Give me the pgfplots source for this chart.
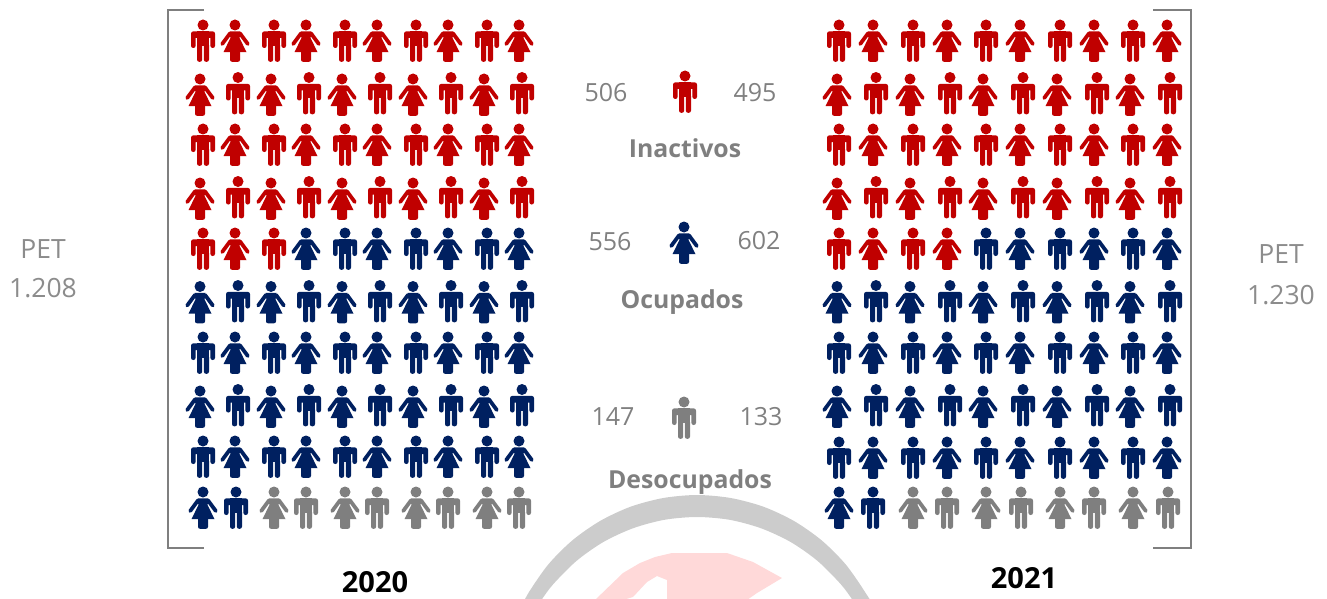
\documentclass[border=0pt]{standalone}
\usepackage{pgfplots}
\pgfplotsset{compat=1.18}
\usepackage{fontspec}
\setmainfont{Open Sans}
\definecolor{cred}{HTML}{C00000}
\definecolor{cnavy}{HTML}{002060}
\definecolor{cgray}{HTML}{7F7F7F}
\definecolor{cnum}{HTML}{808080}
\definecolor{cpet}{HTML}{8C8C8C}
\definecolor{cwmg}{HTML}{CCCCCC}
\definecolor{cwmp}{HTML}{FFD9D9}
\newcommand{\rr}[4]{%
  \pgfpathmoveto{\pgfpoint{#1pt}{#2pt}}%
  \pgfpathlineto{\pgfpoint{#1pt}{#4pt}}%
  \pgfpathlineto{\pgfpoint{#3pt}{#4pt}}%
  \pgfpathlineto{\pgfpoint{#3pt}{#2pt}}%
  \pgfpathclose}
\pgfdeclareplotmark{man}{%
  \pgfpathcircle{\pgfpoint{0pt}{16pt}}{5.5pt}\pgfusepathqfill
  \pgfsetcornersarced{\pgfpoint{2.2pt}{2.2pt}}%
  \rr{-12}{3}{12}{9.6}%
  \rr{-12}{-7}{-7.4}{7}%
  \rr{7.4}{-7}{12}{7}%
  \rr{-6}{-20.8}{-0.8}{-2}%
  \rr{0.8}{-20.8}{6}{-2}%
  \pgfusepath{fill}%
  \pgfsetcornersarced{\pgfpoint{0pt}{0pt}}%
  \rr{-6}{-5}{6}{9.6}\pgfusepathqfill
}
\pgfdeclareplotmark{woman}{%
  \pgfpathcircle{\pgfpoint{0pt}{16pt}}{5.5pt}\pgfusepathqfill
  \pgfsetlinewidth{3.8pt}\pgfsetroundcap
  \pgfpathmoveto{\pgfpoint{-5pt}{7.6pt}}\pgfpathlineto{\pgfpoint{-12.8pt}{-3pt}}%
  \pgfpathmoveto{\pgfpoint{5pt}{7.6pt}}\pgfpathlineto{\pgfpoint{12.8pt}{-3pt}}%
  \pgfusepathqstroke
  \pgfpathmoveto{\pgfpoint{-5.5pt}{9.6pt}}%
  \pgfpathlineto{\pgfpoint{5.5pt}{9.6pt}}%
  \pgfpathlineto{\pgfpoint{4.6pt}{3pt}}%
  \pgfpathlineto{\pgfpoint{11.5pt}{-11.2pt}}%
  \pgfpathlineto{\pgfpoint{-11.5pt}{-11.2pt}}%
  \pgfpathlineto{\pgfpoint{-4.6pt}{3pt}}%
  \pgfpathclose\pgfusepathqfill
  \pgfsetcornersarced{\pgfpoint{2pt}{2pt}}%
  \rr{-5}{-20.8}{5}{-8}\pgfusepath{fill}%
}
\pgfplotsset{
  ppl/.style n args={2}{only marks,mark=#1,mark options={draw=#2,fill=#2},draw=none},
}
\newcommand{\num}[1]{{\fontsize{25}{28}\selectfont #1}}
\newcommand{\pet}[1]{{\fontsize{26.5}{28}\selectfont #1}}
\newcommand{\bld}[1]{{\fontsize{24.8}{28}\selectfont\bfseries #1}}
\begin{document}
\begin{tikzpicture}
\useasboundingbox (0,0) rectangle (1327pt,599pt);
\begin{axis}[at={(0,0)},anchor=south west,scale only axis,width=1327pt,height=599pt,
  xmin=0,xmax=1327,ymin=0,ymax=599,y dir=reverse,hide axis,clip=true]
% watermark
\addplot[fill=cwmg,draw=none,smooth,tension=0.5] coordinates {
 (521.2,607)(529,592)(548.4,564.3)(572.3,540.4)(600,521)(630.6,506.7)(663.3,498)(697,495)
 (730.7,498)(763.4,506.7)(794,521)(821.7,540.4)(845.6,564.3)(865,592)(872.8,607)
 (859.4,610.7)(852.4,599.7)(840.6,584)(817.5,560.9)(790.8,542.1)(761.1,528.3)(729.6,519.8)(697,517)
 (664.4,519.8)(632.9,528.3)(603.2,542.1)(576.5,560.9)(553.4,584)(541.6,599.7)(534.6,610.7)
} --cycle;
\addplot[fill=cwmp,draw=none] coordinates {
 (595,600)(623,573)(640,563)(655,557)(672,553)(727,553)(753,562)(782,578)(757,593)(747,600)
 (667,600)(667,580)(657,576)(647,582)(633,597)(623,600)
} --cycle;
% brackets
\addplot[cgray,line width=2pt,no marks] coordinates {(204,10)(168,10)(168,548)(204,548)};
\addplot[cgray,line width=2pt,no marks] coordinates {(1153,10)(1191,10)(1191,548)(1153,548)};
% red men
\addplot[ppl={man}{cred}] coordinates {
 (203,41)(274,41)(345,41)(416,41)(487,41)
 (238,93.5)(309,93.5)(380,93.5)(451,93.5)(522,93.5)
 (203,145)(274,145)(345,145)(416,145)(487,145)
 (238,197.5)(309,197.5)(380,197.5)(451,197.5)(522,197.5)
 (203,249)(274,249)
 (839,41)(913,41)(986,41)(1060,41)(1133,41)
 (876,93.5)(950,93.5)(1023,93.5)(1097,93.5)(1170,93.5)
 (839,145)(913,145)(986,145)(1060,145)(1133,145)
 (876,197.5)(950,197.5)(1023,197.5)(1097,197.5)(1170,197.5)
 (839,249)(913,249)
 (685,92)
};
% red women
\addplot[ppl={woman}{cred}] coordinates {
 (235,41)(306,41)(377,41)(448,41)(519,41)
 (200,95)(271,95)(342,95)(413,95)(484,95)
 (235,145)(306,145)(377,145)(448,145)(519,145)
 (200,199)(271,199)(342,199)(413,199)(484,199)
 (235,249)
 (873,41)(947,41)(1020,41)(1094,41)(1167,41)
 (837,95)(910,95)(983,95)(1057,95)(1130,95)
 (873,145)(947,145)(1020,145)(1094,145)(1167,145)
 (837,199)(910,199)(983,199)(1057,199)(1130,199)
 (873,249)(947,249)
};
% navy men
\addplot[ppl={man}{cnavy}] coordinates {
 (345,249)(416,249)(487,249)
 (238,301.5)(309,301.5)(380,301.5)(451,301.5)(522,301.5)
 (203,353)(274,353)(345,353)(416,353)(487,353)
 (238,405.5)(309,405.5)(380,405.5)(451,405.5)(522,405.5)
 (203,457)(274,457)(345,457)(416,457)(487,457)
 (236,508)
 (986,249)(1060,249)(1133,249)
 (876,301.5)(950,301.5)(1023,301.5)(1097,301.5)(1170,301.5)
 (839,353)(913,353)(986,353)(1060,353)(1133,353)
 (876,405.5)(950,405.5)(1023,405.5)(1097,405.5)(1170,405.5)
 (839,458)(913,458)(986,458)(1060,458)(1133,458)
 (873,508)
};
% navy women
\addplot[ppl={woman}{cnavy}] coordinates {
 (306,249)(377,249)(448,249)(519,249)
 (200,302.5)(271,302.5)(342,302.5)(413,302.5)(484,302.5)
 (235,353)(306,353)(377,353)(448,353)(519,353)
 (200,407)(271,407)(342,407)(413,407)(484,407)
 (235,457)(306,457)(377,457)(448,457)(519,457)
 (203,508)
 (1020,249)(1094,249)(1167,249)
 (837,302.5)(910,302.5)(983,302.5)(1057,302.5)(1130,302.5)
 (873,353)(947,353)(1020,353)(1094,353)(1167,353)
 (837,407)(910,407)(983,407)(1057,407)(1130,407)
 (873,458)(947,458)(1020,458)(1094,458)(1167,458)
 (839,508)
 (684,243)
};
% gray men
\addplot[ppl={man}{cgray}] coordinates {
 (306,508)(377,508)(448,508)(519,508)
 (947,508)(1021,508)(1094,508)(1168,508)
 (684,418)
};
% gray women
\addplot[ppl={woman}{cgray}] coordinates {
 (274,508)(345,508)(416,508)(487,508)
 (913,508)(986,508)(1060,508)(1133,508)
};
% text
\node[cnum] at (axis cs:606,93) {\num{506}};
\node[cnum] at (axis cs:755,93) {\num{495}};
\node[cnum] at (axis cs:610,241.5) {\num{556}};
\node[cnum] at (axis cs:759,240.5) {\num{602}};
\node[cnum] at (axis cs:613,416.5) {\num{147}};
\node[cnum] at (axis cs:761,416.5) {\num{133}};
\node[cgray] at (axis cs:685,148) {\bld{Inactivos}};
\node[cgray] at (axis cs:682,302) {\bld{Ocupados}};
\node[cgray] at (axis cs:690,482) {\bld{Desocupados}};
\node[cpet] at (axis cs:43,249) {\pet{PET}};
\node[cpet] at (axis cs:43,288) {\pet{1.208}};
\node[cpet] at (axis cs:1281,254) {\pet{PET}};
\node[cpet] at (axis cs:1281,295) {\pet{1.230}};
\node[black] at (axis cs:375,582) {{\fontsize{29}{30}\selectfont\bfseries 2020}};
\node[black] at (axis cs:1024,578) {{\fontsize{29}{30}\selectfont\bfseries 2021}};
\end{axis}
\end{tikzpicture}
\end{document}
